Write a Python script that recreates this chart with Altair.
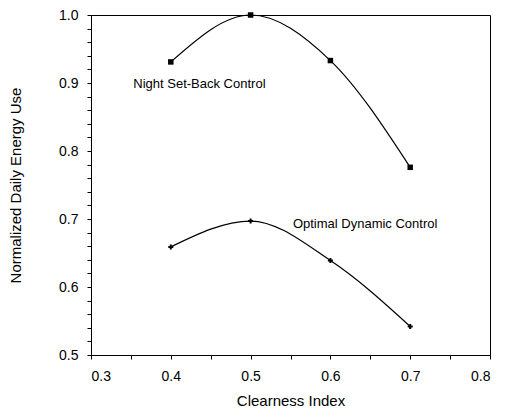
import altair as alt
import pandas as pd

clearness = [0.4, 0.5, 0.6, 0.7]
night_setback = [0.931, 1.0, 0.933, 0.776]
optimal_dynamic = [0.659, 0.697, 0.639, 0.542]
series_names = ["Night Set-Back Control", "Optimal Dynamic Control"]

label_x = [0.353, 0.553]
label_y = [0.898, 0.692]

x_ticks = [0.3, 0.35, 0.4, 0.45, 0.5, 0.55, 0.6, 0.65, 0.7, 0.75, 0.8]
y_ticks = [round(0.5 + 0.02 * i, 2) for i in range(26)]

df = pd.DataFrame({
    "x": clearness * 2,
    "y": night_setback + optimal_dynamic,
    "series": [series_names[0]] * 4 + [series_names[1]] * 4,
})
labels = pd.DataFrame({"x": label_x, "y": label_y, "text": series_names})

FONT = "Liberation Sans"
major_test = "abs(datum.value*10 - round(datum.value*10)) < 0.001"

x_enc = alt.X("x:Q", scale=alt.Scale(domain=[0.3, 0.8], nice=False, zero=False),
              axis=alt.Axis(title="Clearness Index", values=x_ticks, tickCount=200,
                            labelExpr=f"{major_test} ? format(datum.value, '.1f') : ''",
                            labelOverlap=False, grid=False, tickSize=4,
                            labelPadding=10, titlePadding=10))
y_enc = alt.Y("y:Q", scale=alt.Scale(domain=[0.5, 1.0], nice=False, zero=False),
              axis=alt.Axis(title="Normalized Daily Energy Use", values=y_ticks, tickCount=200,
                            labelExpr=f"{major_test} ? format(datum.value, '.1f') : ''",
                            labelOverlap=False, grid=False, tickSize=4,
                            labelPadding=9, titlePadding=35))

base = alt.Chart(df)
lines = base.mark_line(interpolate="monotone", color="black", strokeWidth=1.2).encode(
    x=x_enc, y=y_enc, detail="series:N")
pts_night = base.transform_filter(f"datum.series == '{series_names[0]}'").mark_point(
    shape="square", filled=True, color="black", size=30, opacity=1).encode(x="x:Q", y="y:Q")
pts_opt = base.transform_filter(f"datum.series == '{series_names[1]}'").mark_point(
    shape="cross", filled=True, color="black", size=25, opacity=1).encode(x="x:Q", y="y:Q")
text = alt.Chart(labels).mark_text(align="left", baseline="middle", font=FONT,
                                   fontSize=13, color="black").encode(
    x="x:Q", y="y:Q", text="text:N")

chart = alt.layer(lines, pts_night, pts_opt, text).properties(
    width=399, height=340,
    background="white",
    autosize=alt.AutoSizeParams(type="none"),
    padding={"left": 83, "top": 7, "right": 13, "bottom": 55},
).configure_view(stroke="black", strokeWidth=1).configure_axis(
    domainColor="black", tickColor="black", labelColor="black", titleColor="black",
    labelFont=FONT, titleFont=FONT, labelFontSize=14, titleFontSize=15,
    titleFontWeight="normal",
)

chart.save("out.html", embed_options={"renderer": "svg", "actions": False})
